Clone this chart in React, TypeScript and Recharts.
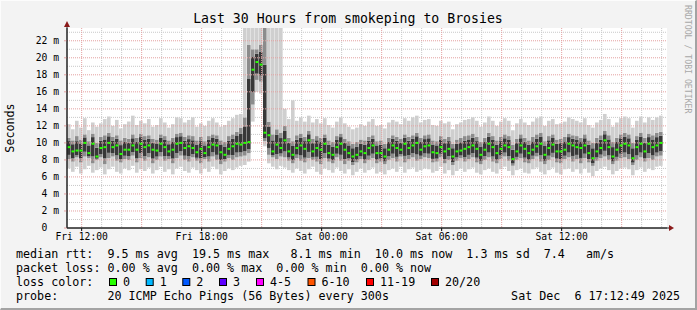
import React from "react";
import { ComposedChart, Bar, Line, XAxis, YAxis, CartesianGrid } from "recharts";

// time axis in minutes since Fri 00:00, one sample every 12 min
const START = 676;
const STEP = 12;
const END = 2476;

const X_TICKS = [720, 1080, 1440, 1800, 2160];
const X_TICK_LABELS = ["Fri 12:00", "Fri 18:00", "Sat 00:00", "Sat 06:00", "Sat 12:00"];
const Y_TICKS = [0, 2, 4, 6, 8, 10, 12, 14, 16, 18, 20, 22];

const MINOR_Y = [1, 3, 5, 7, 9, 11, 13, 15, 17, 19, 21, 23];
const MAJOR_Y = [2, 4, 6, 8, 10, 12, 14, 16, 18, 20, 22];
const MINOR_X = [780, 840, 960, 1020, 1140, 1200, 1320, 1380, 1500, 1560, 1680, 1740, 1860, 1920, 2040, 2100, 2220, 2280, 2400, 2460];
const MAJOR_X = [720, 900, 1080, 1260, 1440, 1620, 1800, 1980, 2160, 2340];

// median rtt (ms)
const MEDIAN = [
  9.5, 9.0, 9.1, 9.1, 10.0, 8.8, 9.9, 8.4, 9.4, 9.5,
  10.0, 9.5, 9.7, 8.7, 9.2, 9.2, 9.7, 9.2, 9.9, 9.5,
  9.7, 9.2, 9.1, 9.9, 9.5, 9.0, 9.2, 9.9, 10.0, 9.4,
  9.6, 9.4, 8.9, 9.3, 8.8, 9.5, 9.8, 9.7, 8.9, 8.6,
  9.3, 9.6, 9.9, 9.8, 10.0, 10.1, 18.6, 19.5, 19.2, 11.2,
  10.9, 9.0, 9.8, 9.4, 10.3, 9.0, 8.6, 9.4, 9.7, 9.3,
  10.3, 9.0, 9.4, 9.2, 9.9, 8.8, 8.6, 9.5, 9.9, 9.2,
  8.8, 8.4, 8.6, 9.0, 8.8, 9.4, 9.7, 8.8, 8.8, 8.4,
  9.2, 9.7, 9.4, 9.2, 9.9, 9.4, 9.7, 10.0, 9.2, 9.6,
  9.7, 8.9, 8.8, 9.5, 9.0, 9.3, 8.4, 9.0, 9.1, 9.3,
  9.5, 9.7, 9.3, 8.6, 9.2, 9.9, 9.5, 8.8, 9.3, 9.7,
  9.5, 8.1, 9.0, 9.7, 9.3, 8.8, 9.2, 9.6, 9.9, 8.6,
  9.4, 9.8, 9.0, 9.0, 9.2, 9.9, 9.7, 9.5, 9.4, 9.7,
  8.8, 8.2, 9.0, 9.4, 10.3, 9.5, 8.4, 9.2, 9.7, 9.9,
  9.7, 8.2, 9.5, 9.9, 9.0, 9.9, 9.5, 9.7, 10.0,
];

// smoke: outer low / high
const SMOKE_LO = [
  7.0, 6.6, 7.2, 6.4, 6.9, 7.3, 6.5, 6.8, 7.1, 6.3,
  6.9, 7.2, 6.6, 6.4, 7.0, 6.8, 7.3, 6.5, 6.9, 6.7,
  7.1, 6.4, 6.8, 7.2, 6.6, 6.9, 6.3, 7.0, 7.2, 6.7,
  6.5, 7.1, 6.8, 6.4, 7.0, 6.6, 7.2, 6.9, 6.3, 6.7,
  7.0, 6.8, 7.1, 7.3, 7.4, 7.8, 12.5, 16.0, 15.8, 9.6,
  7.6, 7.2, 6.9, 7.3, 7.1, 6.8, 6.5, 7.0, 6.7, 6.4,
  6.9, 7.2, 6.6, 6.3, 7.0, 6.8, 6.5, 7.1, 6.7, 6.4,
  6.9, 6.2, 6.6, 7.0, 6.5, 6.8, 7.1, 6.4, 6.6, 6.3,
  6.8, 7.0, 6.6, 7.2, 6.5, 6.9, 7.1, 6.6, 6.8, 7.0,
  6.9, 6.5, 6.7, 7.2, 6.4, 6.8, 6.2, 6.7, 7.0, 6.6,
  6.9, 7.1, 6.5, 6.3, 6.8, 7.0, 6.6, 6.4, 6.9, 7.2,
  6.7, 6.2, 6.8, 7.0, 6.5, 6.4, 6.9, 7.1, 6.6, 6.3,
  6.8, 7.1, 6.5, 6.3, 6.9, 7.0, 6.6, 6.9, 6.4, 7.0,
  6.5, 6.1, 6.7, 7.0, 7.2, 6.8, 6.3, 6.7, 7.0, 7.1,
  6.9, 6.2, 6.8, 7.1, 6.6, 7.0, 6.8, 7.2, 7.3,
];
const SMOKE_HI = [
  12.2, 11.6, 12.6, 11.8, 12.9, 11.5, 12.4, 11.9, 12.3, 12.8,
  13.1, 12.0, 12.7, 11.7, 12.2, 12.5, 13.2, 12.1, 12.6, 12.3,
  12.8, 11.9, 12.1, 12.9, 12.4, 11.8, 12.2, 13.0, 12.9, 12.4,
  12.7, 13.0, 11.9, 12.3, 12.0, 12.6, 12.9, 12.4, 11.9, 12.1,
  12.6, 12.9, 13.3, 13.4, 23.5, 23.5, 23.5, 23.5, 23.5, 23.5,
  23.5, 23.5, 23.5, 23.5, 14.0, 12.8, 15.0, 12.6, 13.0, 12.5,
  13.2, 12.4, 12.8, 12.3, 12.9, 12.1, 11.8, 12.5, 13.0, 12.3,
  11.9, 11.6, 11.8, 12.2, 12.0, 12.5, 12.8, 12.0, 12.1, 11.7,
  12.4, 12.7, 12.5, 12.2, 12.9, 12.6, 13.0, 13.2, 12.4, 12.7,
  12.8, 12.1, 12.0, 12.6, 12.3, 12.5, 11.6, 12.2, 12.4, 12.7,
  12.8, 13.0, 12.6, 11.9, 12.4, 13.1, 12.6, 12.0, 12.5, 12.9,
  12.6, 11.5, 12.3, 12.8, 12.4, 12.1, 12.5, 12.9, 13.1, 12.0,
  12.6, 12.8, 12.2, 12.3, 12.5, 13.0, 12.8, 12.6, 12.4, 12.9,
  12.1, 11.8, 12.4, 12.7, 13.4, 12.8, 11.9, 12.4, 12.9, 13.1,
  12.9, 11.8, 12.6, 13.1, 12.4, 13.0, 12.7, 13.0, 13.2,
];
// smoke: inner band low / high
const MID_LO = [
  8.1, 7.8, 8.3, 7.7, 8.4, 8.2, 7.6, 8.0, 8.3, 7.5,
  8.2, 8.4, 7.9, 7.7, 8.1, 8.0, 8.5, 7.7, 8.2, 7.9,
  8.3, 7.6, 8.0, 8.4, 7.9, 8.1, 7.6, 8.2, 8.5, 8.0,
  7.8, 8.3, 7.9, 7.6, 8.1, 7.8, 8.4, 8.0, 7.5, 7.8,
  8.2, 8.0, 8.3, 8.4, 8.5, 8.8, 14.5, 17.4, 17.2, 10.2,
  8.6, 8.3, 8.1, 8.4, 8.3, 7.9, 7.6, 8.2, 7.9, 7.7,
  8.2, 8.0, 7.8, 7.5, 8.2, 7.8, 7.6, 8.3, 7.9, 7.5,
  7.9, 7.4, 7.7, 8.1, 7.6, 8.0, 8.2, 7.6, 7.8, 7.5,
  8.0, 8.2, 7.8, 8.4, 7.7, 8.1, 8.3, 7.9, 8.1, 8.3,
  8.2, 7.7, 7.8, 8.3, 7.6, 8.0, 7.4, 7.9, 8.2, 7.8,
  8.1, 8.3, 7.7, 7.5, 8.0, 8.3, 7.8, 7.6, 8.1, 8.4,
  7.9, 7.3, 8.0, 8.2, 7.7, 7.6, 8.1, 8.4, 7.8, 7.5,
  8.0, 8.3, 7.7, 7.6, 8.1, 8.3, 7.8, 8.1, 7.6, 8.2,
  7.7, 7.3, 7.9, 8.2, 8.4, 8.0, 7.5, 7.9, 8.2, 8.3,
  8.1, 7.4, 8.0, 8.3, 7.8, 8.2, 8.0, 8.4, 8.5,
];
const MID_HI = [
  10.6, 10.3, 10.8, 10.4, 11.0, 10.2, 11.1, 10.0, 10.7, 10.9,
  11.2, 10.7, 10.9, 10.3, 10.6, 10.5, 11.0, 10.6, 11.1, 10.8,
  10.9, 10.5, 10.4, 11.0, 10.8, 10.3, 10.6, 11.1, 11.2, 10.7,
  10.9, 10.8, 10.3, 10.7, 10.2, 10.8, 11.0, 10.9, 10.3, 10.1,
  10.8, 11.0, 11.3, 11.8, 13.0, 21.5, 21.0, 21.0, 21.5, 23.5,
  12.5, 11.0, 11.6, 11.2, 12.0, 10.6, 10.2, 10.9, 11.1, 10.7,
  11.4, 10.5, 10.8, 10.6, 11.0, 10.3, 10.1, 10.8, 11.1, 10.5,
  10.2, 9.9, 10.1, 10.4, 10.3, 10.7, 10.9, 10.2, 10.3, 9.9,
  10.6, 10.9, 10.7, 10.5, 11.0, 10.7, 10.9, 11.2, 10.6, 10.9,
  11.0, 10.3, 10.2, 10.8, 10.5, 10.7, 9.9, 10.4, 10.6, 10.8,
  10.9, 11.1, 10.7, 10.1, 10.6, 11.2, 10.8, 10.3, 10.7, 11.0,
  10.8, 9.8, 10.5, 11.0, 10.6, 10.3, 10.7, 11.0, 11.2, 10.2,
  10.8, 11.0, 10.4, 10.5, 10.7, 11.1, 10.9, 10.8, 10.6, 11.0,
  10.3, 10.0, 10.6, 10.9, 11.4, 10.9, 10.1, 10.6, 11.0, 11.2,
  11.0, 10.0, 10.8, 11.2, 10.6, 11.1, 10.9, 11.2, 11.3,
];

const LOSS_LABELS = ["0", "1", "2", "3", "4-5", "6-10", "11-19", "20/20"];
const LOSS_COLORS = ["#26ff00", "#00b8ff", "#0059ff", "#5e00ff", "#ff00ff", "#ff5500", "#ff0000", "#a10000"];
const LOSS_BOX_X = [109, 145.7, 182.3, 219, 256, 307.5, 366, 431];

const LEGEND_LINES = [
  "median rtt:  9.5 ms avg  19.5 ms max   8.1 ms min  10.0 ms now  1.3 ms sd  7.4   am/s",
  "packet loss: 0.00 % avg  0.00 % max  0.00 % min  0.00 % now",
  "loss color:",
  "probe:       20 ICMP Echo Pings (56 Bytes) every 300s",
];
const STAMP = "Sat Dec  6 17:12:49 2025";

const MONO = "'DejaVu Sans Mono', monospace";

// stacked smoke layers: transparent base, light, mid, dark core, mid, light
const chartData = MEDIAN.map((m, i) => {
  const lo = SMOKE_LO[i];
  const hi = SMOKE_HI[i];
  const ml = Math.min(MID_LO[i], m);
  const mh = Math.max(MID_HI[i], m);
  const cl = ml + (m - ml) * 0.35;
  const ch = mh - (mh - m) * 0.35;
  return {
    t: START + STEP * i + STEP / 2,
    base: lo,
    l1: ml - lo,
    m1: cl - ml,
    core: ch - cl,
    m2: mh - ch,
    l2: hi - mh,
    med: m,
  };
});

const YTick = (props: any) => {
  const v = props.payload.value;
  const label = v === 0 ? "0\u00a0\u00a0" : `${v}\u00a0m`;
  return (
    <text x={props.x} y={props.y} dy="0.35em" textAnchor="end" fontSize={9.7} fontFamily={MONO} fill="#000">
      {label}
    </text>
  );
};

const MedDot = (props: any) => {
  if (props.cx == null || props.cy == null) return <g key={`d${props.index}`} />;
  return <rect key={`d${props.index}`} x={props.cx - 1.5} y={props.cy - 1} width={3} height={2} fill="#26ff00" />;
};

export default function App() {
  return (
    <div
      style={{
        position: "absolute",
        left: 0,
        top: 0,
        width: 697,
        height: 310,
        background: "#f3f3f3",
        boxSizing: "border-box",
        borderRight: "2px solid #a3a3a3",
        borderBottom: "2px solid #a3a3a3",
        borderTop: "1px solid #fcfcfc",
        borderLeft: "1px solid #fcfcfc",
        overflow: "hidden",
      }}
    >
      <div style={{ position: "absolute", left: -1, top: -1 }}>
        <ComposedChart
          width={697}
          height={310}
          data={chartData}
          margin={{ top: 28, right: 30, left: 0, bottom: 62 }}
          barSize={4}
          barCategoryGap={0}
          barGap={0}
        >
          <CartesianGrid fill="#ffffff" horizontal={false} vertical={false} />
          <CartesianGrid
            fill="none"
            stroke="#c8c8c8"
            strokeDasharray="1 1"
            horizontalValues={MINOR_Y}
            verticalValues={MINOR_X}
          />
          <XAxis
            dataKey="t"
            type="number"
            domain={[START, END]}
            allowDataOverflow
            ticks={X_TICKS}
            interval={0}
            height={20}
            tickSize={3}
            tickMargin={2}
            tickLine={{ stroke: "#000" }}
            axisLine={{ stroke: "#222" }}
            tick={{ fontSize: 9.7, fontFamily: MONO, fill: "#000" }}
            tickFormatter={(v: number) => X_TICK_LABELS[X_TICKS.indexOf(v)] ?? ""}
          />
          <YAxis
            type="number"
            domain={[0, 23.5]}
            allowDataOverflow
            ticks={Y_TICKS}
            interval={0}
            width={67}
            tickSize={3}
            tickMargin={5}
            tickLine={{ stroke: "#e4a0a0" }}
            axisLine={{ stroke: "#222" }}
            tick={<YTick />}
          />
          <Bar dataKey="base" stackId="s" fill="transparent" isAnimationActive={false} />
          <Bar dataKey="l1" stackId="s" fill="#cfcfcf" isAnimationActive={false} />
          <Bar dataKey="m1" stackId="s" fill="#8c8c8c" isAnimationActive={false} />
          <Bar dataKey="core" stackId="s" fill="#383838" isAnimationActive={false} />
          <Bar dataKey="m2" stackId="s" fill="#8c8c8c" isAnimationActive={false} />
          <Bar dataKey="l2" stackId="s" fill="#cfcfcf" isAnimationActive={false} />
          <CartesianGrid
            fill="none"
            stroke="#e4a0a0"
            strokeDasharray="1 1"
            horizontalValues={MAJOR_Y}
            verticalValues={MAJOR_X}
            zIndex={350}
          />
          <Line
            dataKey="med"
            stroke="none"
            dot={MedDot}
            activeDot={false}
            isAnimationActive={false}
          />
        </ComposedChart>
      </div>
      <svg
        width={697}
        height={310}
        style={{ position: "absolute", left: -1, top: -1, pointerEvents: "none" }}
        fontFamily={MONO}
      >
        <text x={348} y={23} textAnchor="middle" fontSize={13.2} fill="#000">
          Last 30 Hours from smokeping to Brosies
        </text>
        <text transform="translate(14,128) rotate(-90)" textAnchor="middle" fontSize={11.7} fill="#000">
          Seconds
        </text>
        <text transform="translate(685,5) rotate(90)" fontSize={8.2} fill="#a8a8a8">
          RRDTOOL / TOBI OETIKER
        </text>
        <line x1={67} y1={228} x2={670} y2={228} stroke="#222" />
        <line x1={67} y1={228} x2={67} y2={24} stroke="#222" />
        <polygon points="64,27 70,27 67,21" fill="#8b1a1a" />
        <polygon points="669,225 669,231 674,228" fill="#8b1a1a" />
        {LEGEND_LINES.map((s, i) => (
          <text key={i} x={16} y={258 + i * 14} fontSize={11.7} fill="#000" style={{ whiteSpace: "pre" }}>
            {s}
          </text>
        ))}
        <text x={680} y={300} textAnchor="end" fontSize={11.7} fill="#000" style={{ whiteSpace: "pre" }}>
          {STAMP}
        </text>
        {LOSS_LABELS.map((lab, i) => (
          <g key={lab}>
            <rect x={LOSS_BOX_X[i] + 0.5} y={278.5} width={7} height={7} fill={LOSS_COLORS[i]} stroke="#000" />
            <text x={LOSS_BOX_X[i] + 14} y={286} fontSize={11.7} fill="#000">
              {lab}
            </text>
          </g>
        ))}
      </svg>
    </div>
  );
}
